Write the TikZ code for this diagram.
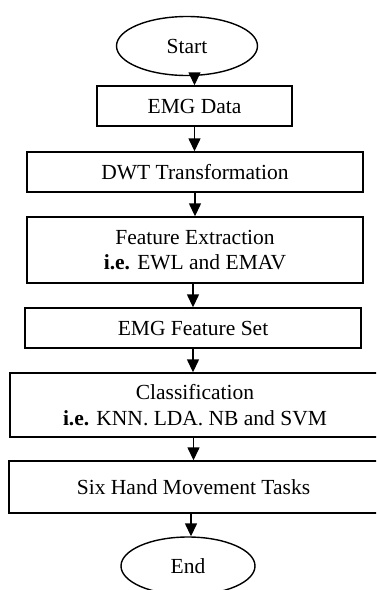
\documentclass[tikz,border=0pt]{standalone}
\usepackage{fontspec}
\setmainfont{Liberation Serif}
\usetikzlibrary{shapes.geometric,arrows.meta}
\begin{document}
\begin{tikzpicture}[x=1pt,y=-1pt,
  box/.style={draw,line width=1.4pt,rectangle,inner sep=0pt,align=center,font=\fontsize{21.5}{25.5}\selectfont},
  term/.style={draw,line width=1.4pt,ellipse,inner sep=0pt,font=\fontsize{21.5}{25.5}\selectfont},
  arr/.style={line width=1.4pt,-{Triangle[length=13pt,width=12pt]}}]
\useasboundingbox (0,0) rectangle (376,590);
\clip (0,0) rectangle (376,590);
\node[term,minimum width=141pt,minimum height=59pt] (start) at (187,46) {Start};
\node[box,minimum width=195pt,minimum height=40pt] (emg) at (194.5,106) {EMG Data};
\node[box,minimum width=336pt,minimum height=40pt] (dwt) at (195,172) {DWT Transformation};
\node[box,minimum width=336pt,minimum height=66pt] (fe) at (195,250) {Feature Extraction\\\textbf{i.e.} EWL and EMAV};
\node[box,minimum width=336pt,minimum height=40pt] (fs) at (193,328) {EMG Feature Set};
\node[box,minimum width=370pt,minimum height=64pt] (cls) at (195,405) {Classification\\\textbf{i.e.} KNN. LDA. NB and SVM};
\node[box,minimum width=369pt,minimum height=52pt] (six) at (193.5,487) {Six Hand Movement Tasks};
\node[term,minimum width=134pt,minimum height=58pt] (end) at (188,566) {End};
\draw[arr] (start.south -| emg.north) -- (emg.north);
\draw[arr] (emg.south) -- (emg.south |- dwt.north);
\draw[arr] (dwt.south) -- (fe.north);
\draw[arr] (fe.south -| fs.north) -- (fs.north);
\draw[arr] (fs.south) -- (fs.south |- cls.north);
\draw[arr] (cls.south -| six.north) -- (six.north);
\draw[arr] (six.south -| 191,0) -- (191,0 |- end.north);
\end{tikzpicture}
\end{document}
